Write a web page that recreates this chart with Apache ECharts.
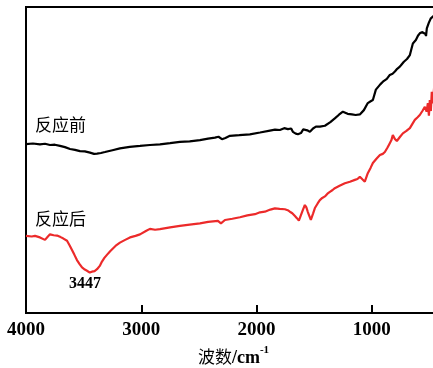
<!DOCTYPE html>
<html>
<head>
<meta charset="utf-8">
<script src="https://cdn.jsdelivr.net/npm/echarts@6/dist/echarts.min.js"></script>
<style>html,body{margin:0;padding:0;background:#fff;}#c{width:433px;height:368px;}</style>
</head>
<body>
<div id="c"></div>
<script>
// Wavenumbers (cm-1) and relative transmittance
var beforeWn = [4000,3940,3879,3835,3792,3750,3705,3662,3618,3575,3532,3490,3445,3410,3384,3350,3315,3250,3185,3100,3011,2925,2838,2750,2665,2580,2491,2420,2361,2330,2300,2270,2231,2150,2058,1970,1884,1840,1798,1760,1728,1700,1685,1660,1641,1615,1595,1581,1560,1537,1510,1485,1450,1407,1360,1321,1285,1251,1210,1173,1140,1104,1069,1035,1010,991,965,948,925,904,870,844,820,800,780,757,740,722,695,670,655,644,630,618,600,584,565,549,535,530,523,506,488,471,450];
var beforeVal = [55.2,55.4,55.1,55.3,54.9,55.0,54.6,54.2,53.6,53.3,52.9,52.8,52.4,52.0,52.1,52.3,52.6,53.2,53.8,54.3,54.6,54.9,55.1,55.5,55.9,56.1,56.5,57.0,57.3,57.6,56.8,57.2,57.9,58.1,58.4,59.0,59.6,59.9,59.8,60.4,60.1,60.3,59.2,58.6,58.4,58.8,60.0,60.6,59.7,59.2,60.3,60.9,60.9,61.2,62.4,63.6,64.8,65.8,65.1,64.9,64.7,64.9,66.3,68.6,69.2,69.6,73.0,73.4,74.8,75.6,76.5,77.8,78.2,78.9,79.8,80.5,81.3,82.1,83.0,84.3,86.5,88.1,87.8,89.2,90.6,91.4,91.8,92.3,91.2,90.5,93.0,94.8,96.3,96.7,97.5];
var afterWn = [4000,3983,3950,3922,3879,3835,3810,3792,3760,3731,3700,3679,3644,3620,3601,3580,3558,3535,3514,3490,3471,3447,3428,3405,3384,3360,3341,3320,3298,3270,3246,3215,3185,3140,3098,3050,3011,2960,2925,2880,2838,2750,2665,2580,2491,2420,2335,2309,2274,2210,2144,2080,2014,1970,1928,1880,1841,1800,1754,1730,1711,1690,1667,1650,1633,1615,1598,1581,1568,1555,1540,1529,1510,1494,1470,1451,1430,1407,1385,1364,1340,1321,1280,1234,1190,1147,1125,1104,1080,1061,1035,1010,991,960,930,905,887,865,844,830,818,800,783,755,731,700,670,648,627,605,584,560,540,525,514,505,497,488,480,471,460,450];
var afterVal = [25.2,25.5,25.0,25.2,24.7,23.9,25.0,25.7,25.4,25.3,24.8,24.4,23.6,22.0,20.6,19.0,17.3,16.0,14.9,14.2,13.8,13.2,13.5,13.7,14.3,15.4,16.8,18.0,19.0,20.2,21.1,22.2,23.0,23.9,24.7,25.2,25.7,26.8,27.5,27.2,27.4,28.0,28.5,28.9,29.3,29.8,30.1,29.3,30.4,30.8,31.3,31.9,32.3,32.9,33.1,33.8,34.2,34.0,33.9,33.6,33.1,32.6,31.7,31.0,30.2,32.0,33.7,35.3,34.5,33.0,31.5,30.4,32.5,34.3,35.8,36.9,37.6,38.1,39.0,39.6,40.2,40.8,41.6,42.4,42.9,43.5,43.8,44.5,43.6,42.9,45.7,47.5,49.0,50.4,51.6,52.0,52.6,54.0,55.5,56.5,58.2,56.9,56.2,57.6,58.7,59.5,60.4,61.8,63.1,63.9,64.7,66.1,67.4,65.8,68.6,64.5,69.6,66.0,72.3,68.5,73.5,74.5];
var xTicks = [1000,2000,3000,4000];
var xLabelCjk = '波数';
var xLabelUnit = '/cm';

function pairs(a, b){ var r=[]; for(var i=0;i<a.length;i++) r.push([a[i], b[i]]); return r; }

var chart = echarts.init(document.getElementById('c'), null, {renderer:'canvas'});
chart.setOption({
  animation:false,
  grid:{left:26, right:-8, top:7, bottom:55, containLabel:false, outerBoundsMode:'none',
        show:true, borderColor:'#000', borderWidth:2, backgroundColor:'transparent'},
  xAxis:{
    type:'value', inverse:true, min:400, max:4000,
    axisLine:{show:true, onZero:false, lineStyle:{color:'#000', width:2}},
    axisTick:{show:true, inside:true, length:8, lineStyle:{color:'#000', width:2}, customValues:[1000,2000,3000]},
    axisLabel:{show:true, customValues:xTicks, margin:8, color:'#000', fontFamily:'Liberation Serif', fontWeight:'bold', fontSize:19,
               formatter:function(v){ return String(v); }},
    splitLine:{show:false},
    name:'{c|' + xLabelCjk + '}{a|' + xLabelUnit + '}{s|-1}',
    nameLocation:'middle', nameGap:32,
    nameTextStyle:{rich:{
      c:{fontFamily:'Noto Sans CJK SC', fontSize:17, color:'#000', fontWeight:'normal', verticalAlign:'bottom', lineHeight:22, padding:[0,0,2,0]},
      a:{fontFamily:'Liberation Serif', fontSize:18, color:'#000', fontWeight:'bold', verticalAlign:'bottom', lineHeight:22},
      s:{fontFamily:'Liberation Serif', fontSize:11, color:'#000', fontWeight:'bold', verticalAlign:'top', lineHeight:22, padding:[0,0,10,0]}
    }}
  },
  yAxis:{
    type:'value', min:0, max:100,
    axisLine:{show:true, lineStyle:{color:'#000', width:2}},
    axisTick:{show:false}, axisLabel:{show:false}, splitLine:{show:false}
  },
  series:[
    {type:'line', data:pairs(beforeWn, beforeVal), showSymbol:false, symbol:'none',
     lineStyle:{color:'#000', width:2.2}, clip:true},
    {type:'line', data:pairs(afterWn, afterVal), showSymbol:false, symbol:'none',
     lineStyle:{color:'#ec2a2a', width:2.2}, clip:true}
  ],
  graphic:[
    {type:'text', left:35, top:116, style:{text:'反应前', font:'17px "Noto Sans CJK SC"', fill:'#000'}},
    {type:'text', left:35, top:210, style:{text:'反应后', font:'17px "Noto Sans CJK SC"', fill:'#000'}},
    {type:'text', left:69, top:276, style:{text:'3447', font:'bold 16px "Liberation Serif"', fill:'#000'}}
  ]
});
</script>
</body>
</html>
